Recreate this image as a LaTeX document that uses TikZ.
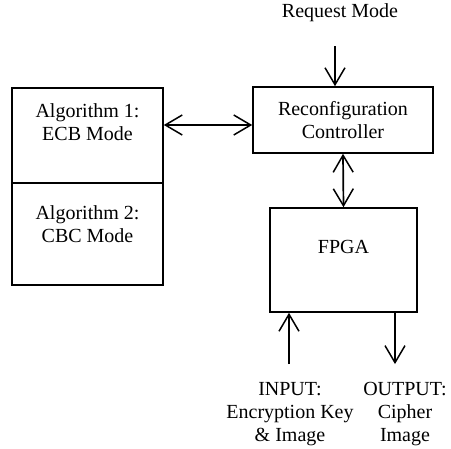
\documentclass[tikz,border=0pt]{standalone}
\usepackage{fontspec}
\setmainfont{Liberation Serif}
\usetikzlibrary{arrows.meta}
\tikzset{recfg/.style={x=1pt,y=-1pt,font=\fontsize{20}{23}\selectfont,line width=1.6pt,
    >={Straight Barb[length=17pt,width=20pt,line width=1.5pt]}},
  blk/.style={draw,align=center,inner sep=0pt},
  lbl/.style={align=center},
  arr/.style={->,line width=1.7pt},
  dbl/.style={<->,line width=1.7pt}}

\begin{document}
\begin{tikzpicture}[recfg]
    \useasboundingbox (0,0) rectangle (451,449);
    \node[blk,minimum width=151,minimum height=95,text depth=26pt] (alg1) at (87.5,135.5) {Algorithm 1:\\ECB Mode};
    \node[blk,minimum width=151,minimum height=102,text depth=20pt] (alg2) at (87.5,234) {Algorithm 2:\\CBC Mode};
    \node[blk,minimum width=180,minimum height=66] (reconfig) at (343,120) {Reconfiguration\\Controller};
    \node[blk,minimum width=147,minimum height=104,text depth=26pt] (fpga) at (343.5,260) {FPGA};
    \node[lbl] (req) at (340,13) {Request Mode};
    \node[lbl] (inp) at (290,414) {INPUT:\\Encryption Key\\\& Image};
    \node[lbl] (outp) at (405,414) {OUTPUT:\\Cipher\\Image};
    % mode request and block links
    \draw[arr] ([xshift=-5pt,yshift=-20pt]req.south) -- ([xshift=-5pt]req.south |- reconfig.north);
    \draw[dbl] ([yshift=-5pt]reconfig.west) -- ([yshift=-5pt]reconfig.west -| alg1.east);
    \draw[dbl] (reconfig.south) -- (fpga.north);
    % data in / out
    \draw[arr] ([xshift=-1pt,yshift=14pt]inp.north) -- ([xshift=-1pt]inp.north |- fpga.south);
    \draw[arr] ([xshift=-10pt]outp.north |- fpga.south) -- ([xshift=-10pt,yshift=14pt]outp.north);
\end{tikzpicture}
\end{document}
